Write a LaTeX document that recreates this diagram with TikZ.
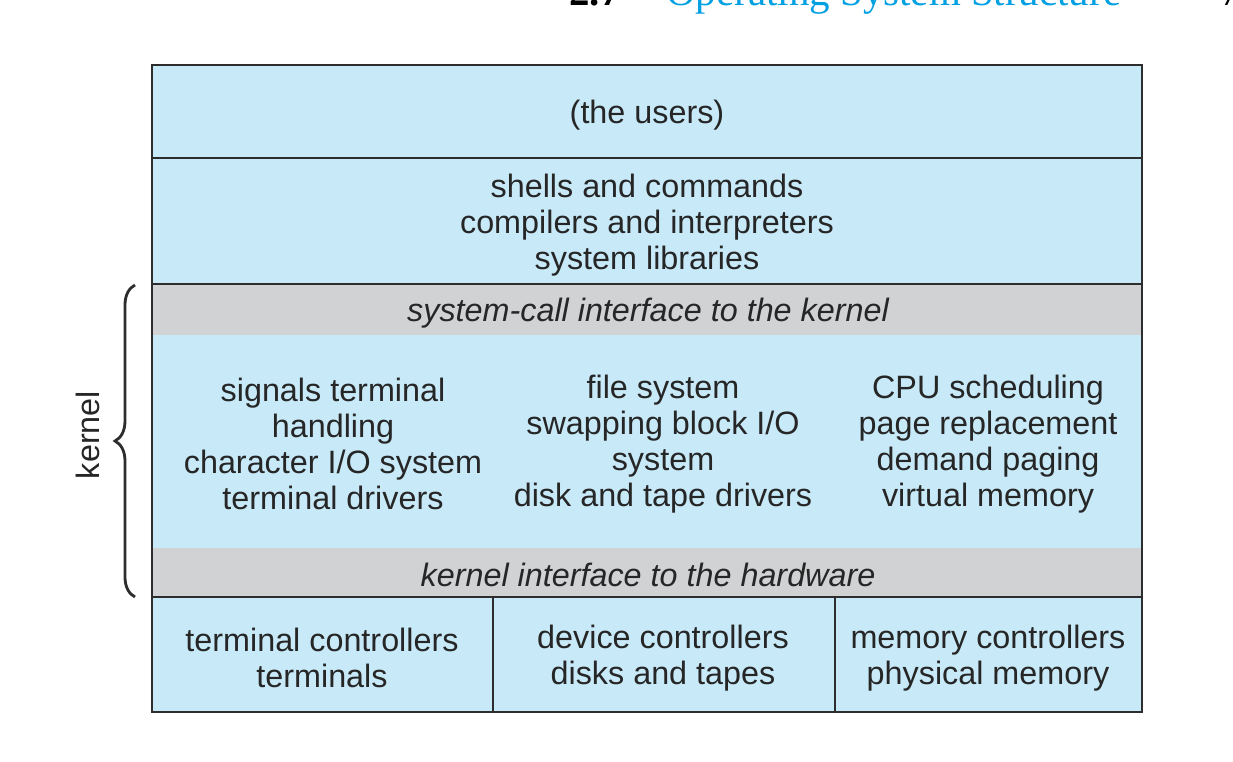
\documentclass[tikz,border=0pt]{standalone}
\usepackage{fontspec}
\setmainfont{Liberation Sans}
\newfontfamily\headfont{Liberation Serif}
\usetikzlibrary{decorations.pathreplacing}

\definecolor{layerblue}{RGB}{199,233,248}
\definecolor{layergray}{RGB}{209,210,212}
\definecolor{headblue}{RGB}{0,160,227}
\definecolor{edgegray}{RGB}{45,45,45}

\begin{document}
\begin{tikzpicture}[x=0.2mm,y=-0.2mm,
  layer/.style={draw=edgegray,line width=1pt},
  layertext/.style={font=\fontsize{18.4}{20.5}\selectfont,text=black!85,align=center,inner sep=0pt},
  layeritalic/.style={layertext,font=\fontsize{18.4}{20.5}\selectfont\itshape}]
\useasboundingbox (0,0) rectangle (1233,762);
\clip (0,0) rectangle (1233,762);

% Page header, cut off at the top
\node[anchor=base east,inner sep=0pt,font=\headfont\bfseries\fontsize{23.3}{24}\selectfont] (secnum) at (621,6) {2.7};
\node[anchor=base west,inner sep=0pt,text=headblue,font=\headfont\fontsize{23.3}{24}\selectfont] (sectitle) at (666,6) {Operating System Structure};
\node[anchor=base west,inner sep=0pt,font=\headfont\fontsize{23.3}{24}\selectfont] (pagenum) at (1220,6) {7};

% The two upper layers
\draw[layer,fill=layerblue] (152,65) rectangle (1142,158);
\draw[layer,fill=layerblue] (152,158) rectangle (1142,284);

% Kernel: two gray interfaces and the blue block between them
\fill[layergray] (152,284) rectangle (1142,335);
\fill[layerblue] (152,335) rectangle (1142,548);
\fill[layergray] (152,548) rectangle (1142,597);
\draw[layer] (152,284) rectangle (1142,597);

% Hardware row
\draw[layer,fill=layerblue] (152,597) rectangle (493,712);
\draw[layer,fill=layerblue] (493,597) rectangle (835,712);
\draw[layer,fill=layerblue] (835,597) rectangle (1142,712);

% Texts of the layers
\node[layertext] (users) at (647,115) {(the users)};
\node[layertext] (shells) at (647,225) {shells and commands\\compilers and interpreters\\system libraries};
\node[layeritalic] (syscall) at (648,313) {system-call interface to the kernel};
\node[layertext] (signals) at (333,444) {signals terminal\\handling\\character I/O system\\terminal drivers};
\node[layertext] (filesys) at (663,444) {file system\\swapping block I/O\\system\\disk and tape drivers};
\node[layertext] (cpusched) at (988,444) {CPU scheduling\\page replacement\\demand paging\\virtual memory};
\node[layeritalic] (hwiface) at (648,575) {kernel interface to the hardware};
\node[layertext] (termctl) at (322,658) {terminal controllers\\terminals};
\node[layertext] (devctl) at (663,658) {device controllers\\disks and tapes};
\node[layertext] (memctl) at (988,658) {memory controllers\\physical memory};

% Brace round the kernel
\draw[line width=1.6pt,edgegray,decorate,decoration={brace,amplitude=4mm}] (135,597) -- (135,285);
\node[layertext,rotate=90] (kernel) at (88,435) {kernel};

\end{tikzpicture}
\end{document}
